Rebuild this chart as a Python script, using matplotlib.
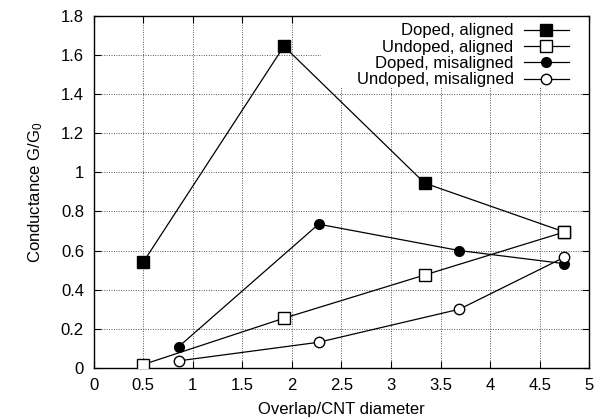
import matplotlib
matplotlib.use('Agg')
import matplotlib.pyplot as plt
from matplotlib.ticker import FormatStrFormatter, MultipleLocator
from matplotlib.patches import Rectangle

plt.rcParams['font.family'] = ['Liberation Sans', 'DejaVu Sans']
plt.rcParams['mathtext.default'] = 'regular'
plt.rcParams['font.size'] = 12

# aligned series share the same overlaps, misaligned ones another set
x_aligned = [0.5, 1.92, 3.34, 4.75]
x_misaligned = [0.86, 2.27, 3.69, 4.75]

doped_aligned = [0.54, 1.645, 0.945, 0.695]
undoped_aligned = [0.017, 0.254, 0.475, 0.695]
doped_misaligned = [0.109, 0.735, 0.60, 0.533]
undoped_misaligned = [0.036, 0.131, 0.30, 0.566]

fig = plt.figure(figsize=(6, 4.19), dpi=100)
ax = fig.add_axes([0.156, 0.122, 0.826, 0.84])

lw = 0.9
ax.plot(x_aligned, doped_aligned, '-s', color='black', lw=lw, ms=8.5,
        mfc='black', label='Doped, aligned', zorder=3)
ax.plot(x_aligned, undoped_aligned, '-s', color='black', lw=lw, ms=8,
        mfc='white', mew=1.0, label='Undoped, aligned', zorder=3)
ax.plot(x_misaligned, doped_misaligned, '-o', color='black', lw=lw, ms=7,
        mfc='black', label='Doped, misaligned', zorder=3)
ax.plot(x_misaligned, undoped_misaligned, '-o', color='black', lw=lw, ms=7.5,
        mfc='white', mew=1.0, label='Undoped, misaligned', zorder=3)

ax.set_xlim(0, 5)
ax.set_ylim(0, 1.8)
ax.xaxis.set_major_locator(MultipleLocator(0.5))
ax.yaxis.set_major_locator(MultipleLocator(0.2))
ax.xaxis.set_major_formatter(FormatStrFormatter('%g'))
ax.yaxis.set_major_formatter(FormatStrFormatter('%g'))
ax.tick_params(direction='in', top=True, right=True, length=5, width=0.8, pad=7)

ax.set_axisbelow(True)
ax.grid(True, linestyle=(0, (1, 1.5)), color='#555555', lw=0.7)

# gnuplot blanks the key area
ax.add_patch(Rectangle((0.458, 0.795), 0.542, 0.205, transform=ax.transAxes,
                       facecolor='white', edgecolor='none', zorder=1))

ax.legend(loc='upper right', bbox_to_anchor=(0.982, 1.012), markerfirst=False,
          frameon=False, handlelength=2.7, handletextpad=0.6,
          labelspacing=0.08, borderpad=0.2, fontsize=12)

ax.set_xlabel('Overlap/CNT diameter', labelpad=7)
ax.set_ylabel('Conductance G/G$_0$', labelpad=11)

for s in ax.spines.values():
    s.set_linewidth(1.0)

fig.savefig('out.png', dpi=100)
